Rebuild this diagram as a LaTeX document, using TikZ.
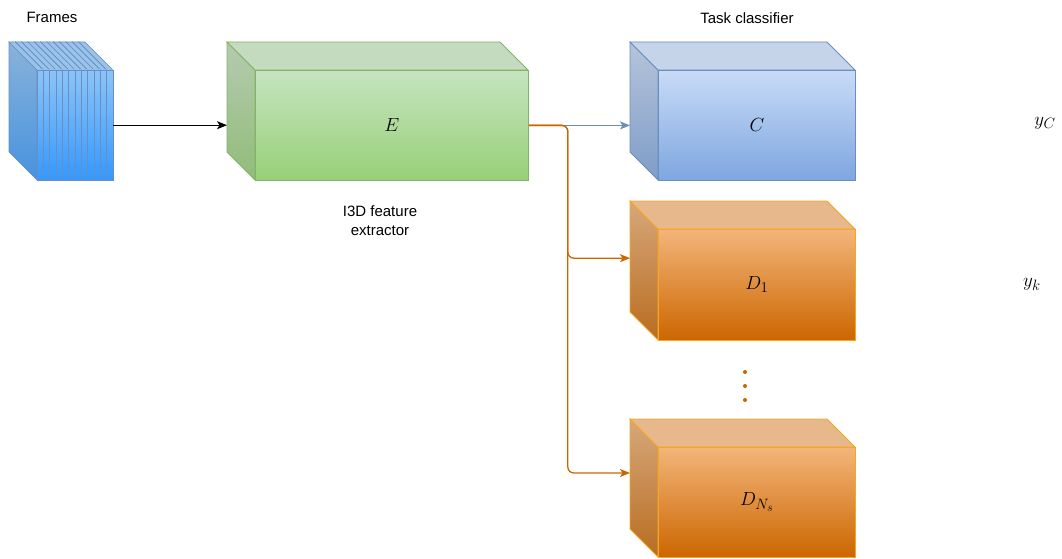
\RequirePackage{fix-cm}
\documentclass[tikz,border=0pt]{standalone}
\usepackage{fontspec}
\setmainfont{Liberation Sans}
\usetikzlibrary{arrows.meta,calc}
\definecolor{gtop}{HTML}{C6E4C0}
\definecolor{gbot}{HTML}{97D077}
\definecolor{gstroke}{HTML}{82B366}
\definecolor{btop}{HTML}{C8DBF7}
\definecolor{bbot}{HTML}{7EA6E0}
\definecolor{bstroke}{HTML}{6C8EBF}
\definecolor{otop}{HTML}{F3B57A}
\definecolor{obot}{HTML}{CC6600}
\definecolor{ostroke}{HTML}{F5A623}
\definecolor{ftop}{HTML}{8CC4F8}
\definecolor{fbot}{HTML}{3399FF}
\definecolor{fstroke}{HTML}{6C8EBF}
\definecolor{orangeline}{HTML}{CC6600}
\definecolor{blueline}{HTML}{6C8EBF}
\DeclareMathSizes{19}{19}{15}{12}
\newcommand\mathsz{\fontsize{19}{21}\selectfont}
\newcommand\txtsz{\fontsize{15}{19}\selectfont}
% #1 name, #2 x, #3 y, #4 w, #5 h, #6 top colour, #7 bottom colour, #8 stroke, #9 label
\newcommand\mycube[9]{%
  \path[draw=#8, line width=0.8pt, top color=#6!75!gray, bottom color=#7!75!gray]
    (#2,#3) -- ++(28,28) -- ++(0,#5) -- ++(-28,-28) -- cycle;
  \path[draw=#8, line width=0.8pt, fill=#6!75!lightgray]
    (#2,#3) -- ++(#4,0) -- ++(28,28) -- ++(-#4,0) -- cycle;
  \node[inner sep=0, minimum width={#4pt+28pt}, minimum height={#5pt+28pt}, anchor=north west] (#1) at (#2,#3) {};
  \node[draw=#8, line width=0.8pt, top color=#6, bottom color=#7, inner sep=0,
        minimum width={#4pt}, minimum height={#5pt}, anchor=north west, font=\mathsz]
        (#1f) at ({#2+28},{#3+28}) {#9};
}
\tikzset{
  conn/.style={line width=1.3pt, -{Stealth[length=10pt,width=8pt,inset=2.5pt]}},
  lbl/.style={font=\txtsz, inner sep=0, align=center},
  mlbl/.style={font=\mathsz, inner sep=0}
}
\begin{document}
\begin{tikzpicture}[x=1pt,y=-1pt]
\useasboundingbox (0,0) rectangle (1062,559);
% Frames stack
\foreach \i in {11,10,...,0} {
  \pgfmathsetmacro\xa{37+\i*76/12}
  \pgfmathsetmacro\s{76/12}
  \path[draw=fstroke, line width=0.6pt, top color=ftop!75!gray, bottom color=fbot!75!gray]
    ({\xa-28},42) -- (\xa,70) -- (\xa,180) -- ({\xa-28},152) -- cycle;
  \path[draw=fstroke, line width=0.6pt, fill=ftop!75!lightgray]
    ({\xa-28},42) -- ({\xa-28+\s},42) -- ({\xa+\s},70) -- (\xa,70) -- cycle;
  \path[draw=fstroke, line width=0.6pt, top color=ftop, bottom color=fbot]
    (\xa,70) rectangle ({\xa+\s},180);
}
\node[inner sep=0, minimum width=76pt, minimum height=110pt, anchor=north west] (Ff) at (37,70) {};
\node[lbl] (framesL) at (52,17) {Frames};
% cubes
\mycube{E}{227}{42}{273}{110}{gtop}{gbot}{gstroke}{$E$}
\mycube{C}{630}{42}{197}{110}{btop}{bbot}{bstroke}{$C$}
\mycube{Da}{630}{201}{197}{111}{otop}{obot}{ostroke}{$D_1$}
\mycube{Dn}{630}{419}{197}{110}{otop}{obot}{ostroke}{$D_{N_s}$}
% labels
\node[lbl] (taskL) at (747,18) {Task classifier};
\node[lbl] (i3dL) at (380,221) {I3D feature\\extractor};
\node[mlbl] (yC) at (1045,123) {$y_C$};
\node[mlbl] (yk) at (1032,284) {$y_k$};
% dots
\foreach \yy in {372,386,400} \fill[orangeline] (745,\yy) circle (2);
% connectors
\draw[conn, black] (Ff.east) -- (E.west |- Ff.east);
\draw[conn, blueline] (Ef.east) -- (C.west |- Ef.east);
\coordinate (split) at ($(Ef.east)+(39,0)$);
\coordinate (Dain) at ($(Da.north west)!0.41!(Da.south west)$);
\coordinate (Dnin) at ($(Dn.north west)!0.39!(Dn.south west)$);
\draw[conn, orangeline, rounded corners=6pt] (Ef.east) -- (split) |- (Dain);
\draw[conn, orangeline, rounded corners=6pt] (Ef.east) -- (split) |- (Dnin);
\end{tikzpicture}
\end{document}
